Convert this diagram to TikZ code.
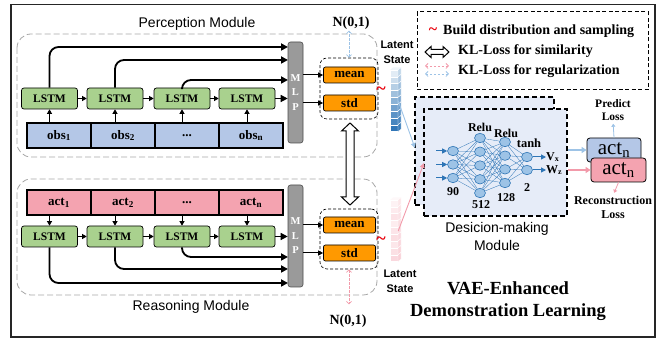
\documentclass[tikz,border=0pt]{standalone}
\usepackage{fontspec}
\setmainfont{Liberation Serif}
\setsansfont{Liberation Sans}
\usetikzlibrary{arrows.meta,calc,shapes.geometric}
\pgfdeclarelayer{bgl}
\pgfdeclarelayer{midl}
\pgfsetlayers{bgl,midl,main}
\definecolor{lstmg}{HTML}{A9D18E}
\definecolor{obsb}{HTML}{B4C7E7}
\definecolor{actp}{HTML}{F4A3B0}
\definecolor{orng}{HTML}{FF9900}
\definecolor{mlpg}{HTML}{9A9A9A}
\definecolor{nnb}{HTML}{2E75B6}
\definecolor{nnf}{HTML}{9DC3E6}
\definecolor{dmbg}{HTML}{E6ECF8}
\definecolor{lblue}{HTML}{9DC3E6}
\definecolor{lpink}{HTML}{F29AAA}
\definecolor{tred}{HTML}{E8000B}
\begin{document}
\begin{tikzpicture}[x=1pt,y=-1pt,
  lstm/.style={draw=black, line width=0.7pt, fill=lstmg, rounded corners=2.5pt, minimum width=56pt, minimum height=21pt, inner sep=0pt, font=\bfseries\fontsize{11.5}{12}\selectfont},
  seqcell/.style={draw=black, line width=1.3pt, minimum width=64pt, minimum height=25pt, inner sep=0pt, font=\bfseries\fontsize{13}{14}\selectfont},
  obscell/.style={seqcell, fill=obsb},
  actcell/.style={seqcell, fill=actp},
  mlpbar/.style={draw=black!70, line width=0.6pt, fill=mlpg, rounded corners=2.5pt, minimum width=15pt, inner sep=0pt, text=white, font=\bfseries\fontsize{10.5}{14.5}\selectfont, align=center},
  musig/.style={draw=black, line width=0.7pt, fill=orng, rounded corners=2pt, minimum width=52pt, minimum height=16pt, inner sep=0pt, font=\bfseries\fontsize{13}{14}\selectfont},
  grp/.style={draw=black, dash pattern=on 3pt off 2pt, line width=0.6pt, rounded corners=7pt, minimum width=58pt, inner sep=0pt},
  modbox/.style={draw=black!35, dash pattern=on 6pt off 3pt, line width=0.8pt, rounded corners=14pt},
  seqarr/.style={line width=1pt, -{Triangle[length=4.5pt,width=5pt]}},
  skiparr/.style={line width=1.8pt, rounded corners=9pt, -{Triangle[length=7pt,width=7pt]}},
  midarr/.style={line width=1pt, -{Triangle[length=5pt,width=5pt]}},
  kldash/.style={dash pattern=on 2.5pt off 1.5pt, line width=0.8pt, {Straight Barb[length=2.5pt,width=5pt]}-{Straight Barb[length=2.5pt,width=5pt]}},
  dmbox/.style={draw=black, line width=1.6pt, dash pattern=on 5pt off 3pt, fill=dmbg, inner sep=0pt},
  neuron/.style={ellipse, draw=nnb, line width=0.6pt, fill=nnf, minimum width=11pt, minimum height=9.5pt, inner sep=0pt},
  nnline/.style={draw=nnb, line width=0.3pt},
  nnarr/.style={draw=nnb, line width=1pt, -{Triangle[length=5pt,width=5pt]}},
  bsf/.style={font=\bfseries\fontsize{11.5}{13}\selectfont},
  lbl/.style={font=\bfseries\fontsize{12}{14}\selectfont, inner sep=1pt},
  title/.style={font=\sffamily\fontsize{14}{18}\selectfont, align=center},
  latxt/.style={font=\sffamily\bfseries\fontsize{11}{15}\selectfont, align=center, inner sep=0pt},
  legtxt/.style={anchor=west, font=\bfseries\fontsize{14}{16}\selectfont, inner sep=0pt},
  tild/.style={text=tred, font=\bfseries\fontsize{18}{18}\selectfont, inner sep=0pt},
  hollow/.style={draw=black, line width=1pt, fill=white}
]
\useasboundingbox (0,0) rectangle (665,344);
\draw[line width=1.2pt, black!85] (11,4.5) rectangle (655,337);

% ---------- Perception module ----------
\draw[modbox] (17,34) rectangle (377,157);
\node[title] (ptitle) at (197,24) {Perception Module};
\node[lstm] (l1) at (49.5,98.5) {LSTM};
\node[lstm] (l2) at (115,98.5) {LSTM};
\node[lstm] (l3) at (182,98.5) {LSTM};
\node[lstm] (l4) at (247,98.5) {LSTM};
\node[obscell] (o1) at (59,135.5) {obs\textsubscript{1}};
\node[obscell] (o2) at (123,135.5) {obs\textsubscript{2}};
\node[obscell] (o3) at (187,135.5) {...};
\node[obscell] (o4) at (251,135.5) {obs\textsubscript{n}};
\node[mlpbar, minimum height=101pt] (mlp1) at (295.5,92.5) {M\\L\\P};
\foreach \k in {1,2,3,4}{\draw[seqarr] (o\k.north -| l\k) -- (l\k.south);}
\draw[seqarr] (l1.east) -- (l2.west);
\draw[seqarr] (l2.east) -- (l3.west);
\draw[seqarr] (l3.east) -- (l4.west);
\coordinate (sk1) at (288,47);
\coordinate (sk2) at (288,60);
\coordinate (sk3) at (288,80);
\draw[skiparr] (l1.north) |- (sk1);
\draw[skiparr] (l2.north) |- (sk2);
\draw[skiparr] (l3.north) |- (sk3);
\draw[line width=1.3pt, -{Triangle[length=7pt,width=7pt]}] (l4.east) -- (l4.east -| mlp1.west);
\node[musig] (mean1) at (349.5,75) {mean};
\node[musig] (std1) at (349.5,103) {std};
\node[grp, minimum height=61pt] (g1) at (349,88.5) {};
\draw[midarr] (mlp1.east |- mean1) -- (mean1.west);
\draw[midarr] (mlp1.east |- std1) -- (std1.west);
\node[lbl, font=\bfseries\fontsize{14}{16}\selectfont] (n1t) at (351,23) {N(0,1)};
\draw[kldash, lblue] (g1.north) -- (g1.north |- n1t.south);
\node[tild] (tl1) at (381,91) {\textasciitilde};

% ---------- Reasoning module ----------
\draw[modbox] (17,179) rectangle (377,295);
\node[title] (rtitle) at (191,307) {Reasoning Module};
\node[actcell] (ac1) at (59,202.5) {act\textsubscript{1}};
\node[actcell] (ac2) at (123,202.5) {act\textsubscript{2}};
\node[actcell] (ac3) at (187,202.5) {...};
\node[actcell] (ac4) at (251,202.5) {act\textsubscript{n}};
\node[lstm] (l5) at (49.5,236.5) {LSTM};
\node[lstm] (l6) at (115,236.5) {LSTM};
\node[lstm] (l7) at (182,236.5) {LSTM};
\node[lstm] (l8) at (247,236.5) {LSTM};
\node[mlpbar, minimum height=102pt] (mlp2) at (295.5,236) {M\\L\\P};
\draw[seqarr] (ac1.south -| l5) -- (l5.north);
\draw[seqarr] (ac2.south -| l6) -- (l6.north);
\draw[seqarr] (ac3.south -| l7) -- (l7.north);
\draw[seqarr] (ac4.south -| l8) -- (l8.north);
\draw[seqarr] (l5.east) -- (l6.west);
\draw[seqarr] (l6.east) -- (l7.west);
\draw[seqarr] (l7.east) -- (l8.west);
\coordinate (sk4) at (288,257);
\coordinate (sk5) at (288,269);
\coordinate (sk6) at (288,283);
\draw[skiparr] (l7.south) |- (sk4);
\draw[skiparr] (l6.south) |- (sk5);
\draw[skiparr] (l5.south) |- (sk6);
\draw[line width=1.3pt, -{Triangle[length=7pt,width=7pt]}] (l8.east) -- (l8.east -| mlp2.west);
\node[musig] (mean2) at (349.5,225) {mean};
\node[musig] (std2) at (349.5,253) {std};
\node[grp, minimum height=60pt] (g2) at (349,239) {};
\draw[midarr] (mlp2.east |- mean2) -- (mean2.west);
\draw[midarr] (mlp2.east |- std2) -- (std2.west);
\node[lbl, font=\bfseries\fontsize{14}{16}\selectfont] (n2t) at (348,321) {N(0,1)};
\draw[kldash, lpink, shorten >=9pt] (g2.south) -- (g2.south |- n2t.north);
\node[tild] (tl2) at (381,241) {\textasciitilde};

% hollow double arrow between the two distributions
\draw[hollow] (350,123) -- (358.5,131) -- (354,131) -- (354,197) -- (358.5,197) -- (350,205) -- (341.5,197) -- (346,197) -- (346,131) -- (341.5,131) -- cycle;

% ---------- latent state bars ----------
\foreach \i in {0,...,8}{
  \pgfmathtruncatemacro\pc{14+\i*10.7}
  \pgfmathtruncatemacro\ps{30+\i*8}
  \fill[nnb!\pc!white, draw=white, line width=0.4pt] (390,70+\i*6.85) rectangle (398,76.85+\i*6.85);
  \fill[nnb!\ps!white, draw=white, line width=0.3pt] (398,70+\i*6.85) -- (401,67.5+\i*6.85) -- (401,74.35+\i*6.85) -- (398,76.85+\i*6.85) -- cycle;
  \pgfmathtruncatemacro\pp{14+mod(\i,3)*6+\i*2}
  \pgfmathtruncatemacro\pq{26+\i*3}
  \fill[actp!\pp!white, draw=white, line width=0.4pt] (390,200+\i*6.85) rectangle (398,206.85+\i*6.85);
  \fill[actp!\pq!white, draw=white, line width=0.3pt] (398,200+\i*6.85) -- (401,197.5+\i*6.85) -- (401,204.35+\i*6.85) -- (398,206.85+\i*6.85) -- cycle;
}
\fill[nnb!8!white] (390,70) -- (393,67.5) -- (401,67.5) -- (398,70) -- cycle;
\fill[actp!8!white] (390,200) -- (393,197.5) -- (401,197.5) -- (398,200) -- cycle;
\node[inner sep=0pt, minimum width=8pt, minimum height=62pt] (lat1) at (394,101) {};
\node[inner sep=0pt, minimum width=8pt, minimum height=62pt] (lat2) at (394,231) {};
\node[latxt] (lt1) at (397,52) {Latent\\State};
\node[latxt] (lt2) at (400,281) {Latent\\State};

% ---------- legend ----------
\draw[line width=1pt, dash pattern=on 4pt off 2.5pt] (417,12) rectangle (648,90);
\node[tild, font=\bfseries\fontsize{16}{16}\selectfont] (lg1) at (433,31) {\textasciitilde};
\node[legtxt] (lt3) at (443,31) {Build distribution and sampling};
\draw[hollow] (425,52) -- (431,46.5) -- (431,49.5) -- (443,49.5) -- (443,46.5) -- (449,52) -- (443,57.5) -- (443,54.5) -- (431,54.5) -- (431,57.5) -- cycle;
\node[legtxt] (lt4) at (458,51) {KL-Loss for similarity};
\coordinate (lg2a) at (425,66); \coordinate (lg2b) at (449,66);
\coordinate (lg3a) at (425,74); \coordinate (lg3b) at (449,74);
\draw[kldash, lpink] (lg2a) -- (lg2b);
\draw[kldash, lblue] (lg3a) -- (lg3b);
\node[legtxt] (lt5) at (458,71) {KL-Loss for regularization};

% ---------- decision-making module ----------
\begin{pgfonlayer}{bgl}
\node[dmbox, minimum width=139pt, minimum height=108pt] (dmb) at (484.5,151) {};
\node[dmbox, minimum width=143pt, minimum height=107pt] (dm) at (495.5,162.5) {};
\end{pgfonlayer}
\foreach \y [count=\i] in {151,164.5,178}{\node[neuron] (p\i) at (453,\y) {};}
\foreach \y [count=\i] in {138,151.75,165.5,179.25,193}{\node[neuron] (q\i) at (480,\y) {};}
\foreach \y [count=\i] in {142,155.67,169.33,183}{\node[neuron] (r\i) at (505,\y) {};}
\foreach \y [count=\i] in {157,170}{\node[neuron] (s\i) at (527,\y) {};}
\begin{pgfonlayer}{midl}
\foreach \i in {1,2,3}{\foreach \j in {1,...,5}{\draw[nnline] (p\i) -- (q\j);}}
\foreach \i in {1,...,5}{\foreach \j in {1,...,4}{\draw[nnline] (q\i) -- (r\j);}}
\foreach \i in {1,...,4}{\foreach \j in {1,2}{\draw[nnline] (r\i) -- (s\j);}}
\end{pgfonlayer}
\foreach \y [count=\i] in {151,164.5,178}{
  \coordinate (in\i) at (436,\y);
  \draw[nnarr] (in\i) -- (p\i.west);
}
\node[anchor=west, inner sep=0pt, font=\bfseries\fontsize{12}{14}\selectfont] (vx) at (546,157) {V\textsubscript{x}};
\node[anchor=west, inner sep=0pt, font=\bfseries\fontsize{12}{14}\selectfont] (wz) at (546,170) {W\textsubscript{z}};
\draw[nnarr] (s1.east) -- (vx.west);
\draw[nnarr] (s2.east) -- (wz.west);
\node[lbl] (re1) at (480,127) {Relu};
\node[lbl] (re2) at (506,133) {Relu};
\node[lbl, font=\bfseries\fontsize{12.5}{14}\selectfont] (th) at (529,143) {tanh};
\node[lbl] (c90) at (453,192) {90};
\node[lbl] (c512) at (481,205) {512};
\node[lbl] (c128) at (506,198) {128};
\node[lbl] (c2) at (527,188) {2};
\node[title] (dmt) at (497,236) {Desicion-making\\Module};

\coordinate (dmin1) at (415,148);
\coordinate (dmin2) at (424,163);
\draw[lblue, line width=0.9pt, -{Triangle[length=5pt,width=5pt]}] (lat1.east) -- (dmin1);
\draw[lpink, line width=0.9pt, -{Triangle[length=5pt,width=5pt]}] (lat2.east) -- (dmin2);

% ---------- outputs ----------
\node[draw=black, line width=0.8pt, fill=obsb, rounded corners=3pt, minimum width=54pt, minimum height=24pt, inner sep=0pt, font=\fontsize{21}{22}\selectfont] (actb) at (614,150) {act\textsubscript{n}};
\node[draw=black, line width=0.8pt, fill=actp, rounded corners=3pt, minimum width=55pt, minimum height=24pt, inner sep=0pt, font=\fontsize{21}{22}\selectfont] (actr) at (618.5,170) {act\textsubscript{n}};
\draw[lblue, line width=1.2pt, -{Triangle[length=5pt,width=6pt]}] (dm.east |- actb.west) -- (actb.west);
\draw[lpink, line width=1.2pt, -{Triangle[length=5pt,width=6pt]}] (dm.east |- actr.west) -- (actr.west);
\node[bsf, align=center, inner sep=0pt] (pl) at (613,110) {Predict\\Loss};
\node[bsf, align=center, inner sep=0pt, font=\bfseries\fontsize{12}{14}\selectfont] (rl) at (613,207) {Reconstruction\\Loss};
\draw[lblue, line width=0.8pt, -{Triangle[length=3pt,width=4pt]}, shorten >=3pt] (actb.north) -- (pl.south);
\draw[lpink, line width=0.8pt, -{Triangle[length=3pt,width=4pt]}, shorten >=3pt] (actr.south) -- (rl.north);

\node[align=center, inner sep=0pt, font=\bfseries\fontsize{18.5}{22}\selectfont] (vae) at (508,301) {VAE-Enhanced\\Demonstration Learning};
\end{tikzpicture}
\end{document}
